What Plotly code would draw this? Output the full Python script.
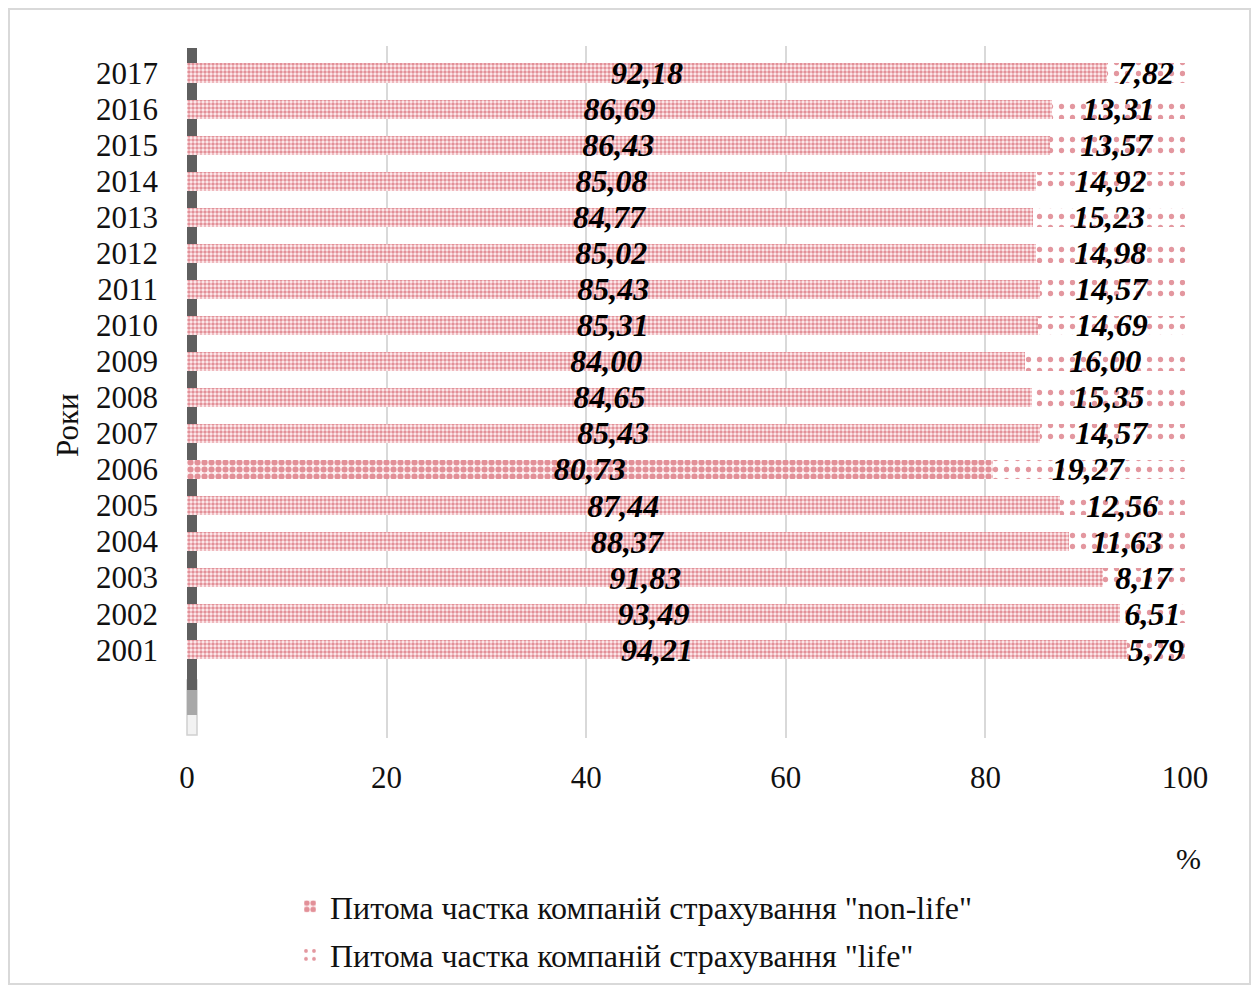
import plotly.graph_objects as go

# Data: share of insurance companies by type, %
years = ["2001", "2002", "2003", "2004", "2005", "2006", "2007", "2008", "2009",
         "2010", "2011", "2012", "2013", "2014", "2015", "2016", "2017"]
non_life = [94.21, 93.49, 91.83, 88.37, 87.44, 80.73, 85.43, 84.65, 84.00,
            85.31, 85.43, 85.02, 84.77, 85.08, 86.43, 86.69, 92.18]
life = [5.79, 6.51, 8.17, 11.63, 12.56, 19.27, 14.57, 15.35, 16.00,
        14.69, 14.57, 14.98, 15.23, 14.92, 13.57, 13.31, 7.82]
x_ticks = [0, 20, 40, 60, 80, 100]

name_non_life = 'Питома частка компаній страхування "non-life"'
name_life = 'Питома частка компаній страхування "life"'

W, H = 1259, 990
M_L, M_R, M_T, M_B = 187, 74, 46, 252
PW, PH = W - M_L - M_R, H - M_T - M_B

def px(x):
    return (x - M_L) / PW

def py(y):
    return (H - M_B - y) / PH

FONT = "Liberation Serif, Times New Roman, serif"
RED = "#c8303f"

def fmt(v):
    return f"{v:.2f}".replace(".", ",")

label_font = dict(family=FONT, size=32, color="black", weight="bold", style="italic")

# heavier dot pattern for the 2006 bar
nl_sizes = [7 if y == "2006" else 4 for y in years]

fig = go.Figure()
fig.add_trace(go.Bar(
    y=years, x=non_life, orientation="h", name=name_non_life,
    legendgroup="a",
    marker=dict(color="#f8d6da",
                line=dict(width=0),
                pattern=dict(shape=".", fgcolor=RED, bgcolor="#fdf0f1",
                             size=nl_sizes, solidity=0.6)),
    text=[fmt(v) for v in non_life], textposition="inside",
    insidetextanchor="middle", textangle=0, constraintext="none",
    textfont=label_font,
))
fig.add_trace(go.Bar(
    y=years, x=life, orientation="h", name=name_life,
    legendgroup="b",
    marker=dict(color="white",
                line=dict(width=0),
                pattern=dict(shape=".", fgcolor=RED, bgcolor="white",
                             size=11, solidity=0.18)),
    text=[fmt(v) for v in life], textposition="inside",
    insidetextanchor="middle", textangle=0, constraintext="none",
    textfont=label_font,
))

shapes = [
    # outer chart border
    dict(type="rect", xref="paper", yref="paper",
         x0=px(9), x1=px(1250), y0=py(984), y1=py(9),
         line=dict(color="#d9d9d9", width=2), fillcolor="rgba(0,0,0,0)", layer="below"),
    # side wall of the category axis
    dict(type="rect", xref="paper", yref="paper",
         x0=px(187), x1=px(197), y0=py(735), y1=py(680),
         line=dict(color="#d0d0d0", width=1.5), fillcolor="#f2f2f2", layer="below"),
    dict(type="rect", xref="paper", yref="paper",
         x0=px(187), x1=px(197), y0=py(700), y1=py(48),
         line=dict(width=0), fillcolor="#5f5f5f", layer="below"),
    dict(type="rect", xref="paper", yref="paper",
         x0=px(187), x1=px(197), y0=py(715), y1=py(690),
         line=dict(width=0), fillcolor="#a8a8a8", layer="below"),
]

annotations = [
    dict(text="Роки", xref="paper", yref="paper", x=px(68), y=py(425),
         xanchor="center", yanchor="middle",
         textangle=-90, showarrow=False, font=dict(family=FONT, size=31, color="#111")),
    dict(text="%", xref="paper", yref="paper", x=px(1188), y=py(858),
         xanchor="center", yanchor="middle",
         showarrow=False, font=dict(family=FONT, size=30, color="#111")),
]

fig.update_layout(
    width=W, height=H,
    margin=dict(l=M_L, r=M_R, t=M_T, b=M_B, autoexpand=False),
    paper_bgcolor="white", plot_bgcolor="white",
    barmode="stack", bargap=0.47,
    font=dict(family=FONT, size=31, color="#111"),
    xaxis=dict(range=[0, 100], tickvals=x_ticks, showgrid=True,
               gridcolor="#d9d9d9", gridwidth=1.5, zeroline=False,
               showline=False, ticks="", ticklabelstandoff=18,
               tickfont=dict(family=FONT, size=31, color="#111")),
    yaxis=dict(type="category", range=[-2.45, 16.75], showgrid=False,
               tickmode="array", tickvals=years, ticktext=years,
               zeroline=False, showline=False, ticks="", ticklabelstandoff=28,
               tickfont=dict(family=FONT, size=31, color="#111")),
    legend=dict(x=px(290), y=py(879), xanchor="left", yanchor="top",
                orientation="v", traceorder="grouped", tracegroupgap=4,
                font=dict(family=FONT, size=32, color="#111"),
                itemwidth=30, bgcolor="rgba(0,0,0,0)"),
    shapes=shapes, annotations=annotations,
)

fig.write_html("out.html")
